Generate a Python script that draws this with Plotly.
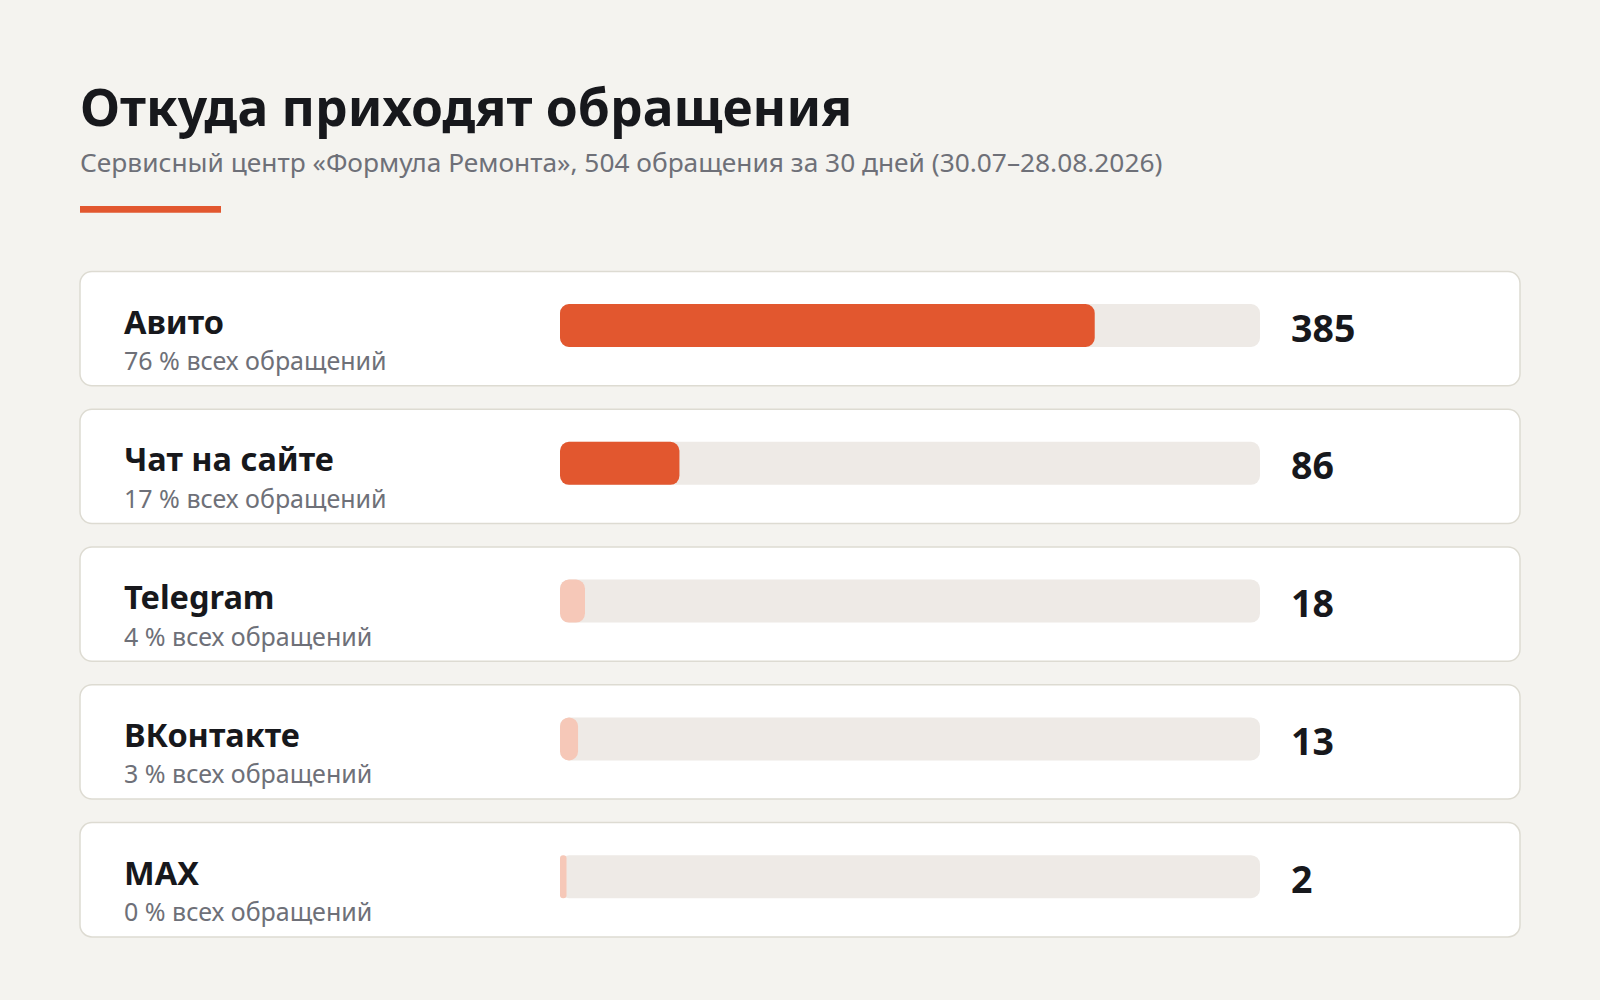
import plotly.graph_objects as go

# Data: inquiries by channel, 30 days (30.07–28.08.2026)
channels = ["Авито", "Чат на сайте", "Telegram", "ВКонтакте", "MAX"]
counts = [385, 86, 18, 13, 2]
company = "Сервисный центр «Формула Ремонта»"
period_days = 30
period_label = "30.07–28.08.2026"
title_text = "Откуда приходят обращения"

W, H = 1600, 1000
FONT = "Noto Sans"
bg = "#f4f3ef"
orange = "#e2572f"
orange_light = "#f6c8b8"
track_color = "#eeeae6"
card_border = "#dddbd2"
dark = "#17181c"
gray = "#6e7078"

n = len(channels)
rows = list(range(n))
total = sum(counts)
shares = [c / total for c in counts]
pct = [round(s * 100) for s in shares]

# pixel geometry of the rows
row0_px = 325.5
step_px = 137.8
track_x0, track_x1 = 560, 1260
y_top = row0_px - step_px / 2
y_bot = y_top + n * step_px
bar_w = 43 / step_px

# tiny values still get a visible pill (like a CSS min-width)
min_px = 6.5
min_units = min_px / (track_x1 - track_x0) * total
shown = [max(c, min_units) for c in counts]
fill_colors = [orange if s >= 0.1 else orange_light for s in shares]

fig = go.Figure()

# bars with an explicit base get both ends rounded
fig.add_trace(go.Bar(
    y=rows, x=[total] * n, base=[0] * n,
    orientation="h", width=bar_w,
    marker=dict(color=track_color, cornerradius=9, line=dict(width=0)),
    hoverinfo="skip", showlegend=False,
))
fig.add_trace(go.Bar(
    y=rows, x=shown, base=[0] * n,
    orientation="h", width=bar_w,
    marker=dict(color=fill_colors, cornerradius=9, line=dict(width=0)),
    customdata=list(zip(channels, counts, pct)),
    hovertemplate="%{customdata[0]}: %{customdata[1]} (%{customdata[2]} %)<extra></extra>",
    showlegend=False,
))


def rounded_rect(x0, x1, y0, y1, rx, ry):
    k = 0.4477  # 1 - 0.5523
    return (f"M {x0 + rx},{y0} L {x1 - rx},{y0} "
            f"C {x1 - rx * k},{y0} {x1},{y0 + ry * k} {x1},{y0 + ry} "
            f"L {x1},{y1 - ry} "
            f"C {x1},{y1 - ry * k} {x1 - rx * k},{y1} {x1 - rx},{y1} "
            f"L {x0 + rx},{y1} "
            f"C {x0 + rx * k},{y1} {x0},{y1 - ry * k} {x0},{y1 - ry} "
            f"L {x0},{y0 + ry} "
            f"C {x0},{y0 + ry * k} {x0 + rx * k},{y0} {x0 + rx},{y0} Z")


shapes = []
card_up = (row0_px - 271.4) / step_px
card_down = (385.7 - row0_px) / step_px
for i in rows:
    shapes.append(dict(
        type="path", xref="paper", yref="y", layer="below",
        path=rounded_rect(80 / W, 1520 / W, i - card_up, i + card_down, 12 / W, 12 / step_px),
        fillcolor="white", line=dict(color=card_border, width=1.5),
    ))

# accent line under the subtitle
shapes.append(dict(type="rect", xref="paper", yref="paper",
                   x0=80 / W, x1=221 / W, y0=1 - 212.7 / H, y1=1 - 206 / H,
                   fillcolor=orange, line=dict(width=0)))

annotations = [
    dict(text=title_text, xref="paper", yref="paper", x=78 / W, y=1 - 106 / H,
         xanchor="left", yanchor="middle", showarrow=False,
         font=dict(family=FONT, size=51.5, color=dark, weight=700)),
    dict(text=f"{company}, {total} обращения за {period_days} дней ({period_label})",
         xref="paper", yref="paper", x=78 / W, y=1 - 162 / H,
         xanchor="left", yanchor="middle", showarrow=False,
         font=dict(family=FONT, size=26.3, color=gray)),
]
for i, (name, c, p) in enumerate(zip(channels, counts, pct)):
    annotations.append(dict(
        text=name, xref="paper", yref="y", x=122 / W, y=i, yshift=4.5,
        xanchor="left", yanchor="middle", showarrow=False,
        font=dict(family=FONT, size=32.5, color=dark, weight=700)))
    annotations.append(dict(
        text=f"{p} % всех обращений", xref="paper", yref="y", x=122 / W, y=i, yshift=-34.5,
        xanchor="left", yanchor="middle", showarrow=False,
        font=dict(family=FONT, size=25, color=gray)))
    annotations.append(dict(
        text=str(c), xref="paper", yref="y", x=1289 / W, y=i, yshift=-1.6,
        xanchor="left", yanchor="middle", showarrow=False,
        font=dict(family=FONT, size=37.5, color=dark, weight=700)))

fig.update_layout(
    width=W, height=H,
    margin=dict(l=0, r=0, t=0, b=0),
    paper_bgcolor=bg, plot_bgcolor="rgba(0,0,0,0)",
    barmode="overlay",
    xaxis=dict(domain=[track_x0 / W, track_x1 / W], range=[0, total], visible=False, fixedrange=True),
    yaxis=dict(domain=[1 - y_bot / H, 1 - y_top / H], range=[n - 0.5, -0.5],
               visible=False, fixedrange=True),
    shapes=shapes,
    annotations=annotations,
    font=dict(family=FONT),
    hoverlabel=dict(font=dict(family=FONT)),
)

fig.write_html("out.html", config={"displayModeBar": False},
               post_script="document.body.style.margin='0';")
